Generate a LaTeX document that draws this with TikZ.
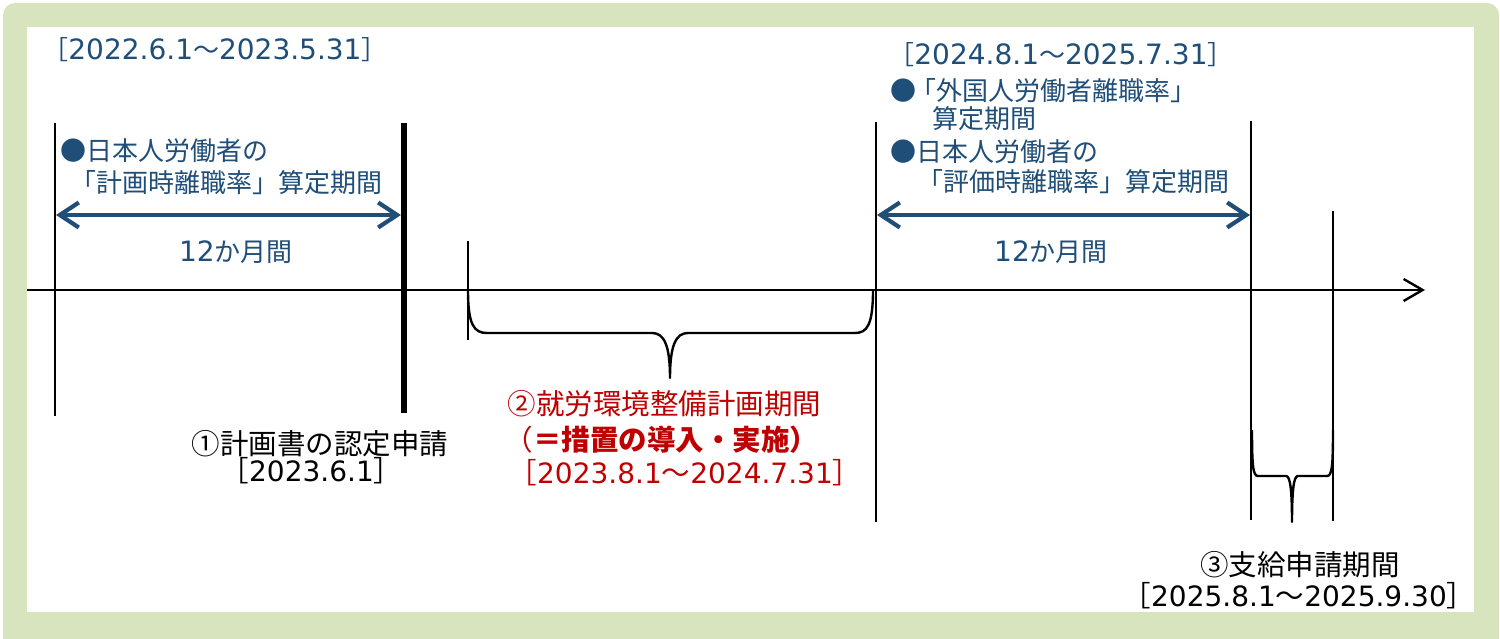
\documentclass[tikz,border=0pt]{standalone}
\usepackage{fontspec}
\setmainfont{Noto Sans CJK JP}
\newfontfamily\latfont{DejaVu Sans}
\usetikzlibrary{arrows.meta}
\definecolor{frameg}{RGB}{216,228,189}
\definecolor{tblue}{RGB}{31,78,121}
\definecolor{tred}{RGB}{192,0,0}
\newcommand\nm[1]{{\latfont\fontsize{28}{30}\selectfont #1}}
\newcommand\smfont{\fontsize{26}{30}\selectfont}
\newcommand\bgfont{\fontsize{28.5}{32}\selectfont}
\begin{document}
\begin{tikzpicture}[x=1pt,y=-1pt,
  note/.style={inner sep=0pt, text=tblue, font=\smfont},
  lab/.style={inner sep=0pt, text=black, font=\bgfont},
  redlab/.style={lab, text=tred},
  tick/.style={line width=2pt, black},
  thicktick/.style={line width=6pt, black},
  axis/.style={line width=2.4pt, black, -{Straight Barb[length=19pt,width=22pt]}},
  span/.style={line width=4.2pt, tblue, {Straight Barb[length=19pt,width=25pt]}-{Straight Barb[length=19pt,width=25pt]}},
  bracel/.style={line width=2.4pt, black, line join=round}]
\useasboundingbox (0,0) rectangle (1500,639);
\clip (0,0) rectangle (1500,639);
\fill[frameg, rounded corners=12pt] (3,3) rectangle (1499,660);
\fill[white] (27,27) rectangle (1474,612);

% coordinates
\coordinate (ax0) at (27,290);
\coordinate (ax1) at (1425,290);
\coordinate (v1t) at (55,123);   \coordinate (v1b) at (55,416);
\coordinate (v2t) at (404,123);  \coordinate (v2b) at (404,413);
\coordinate (v3t) at (468,241);  \coordinate (v3b) at (468,340);
\coordinate (v4t) at (876,122);  \coordinate (v4b) at (876,522);
\coordinate (v5t) at (1251,121); \coordinate (v5b) at (1251,520);
\coordinate (v6t) at (1333,211); \coordinate (v6b) at (1333,521);
\coordinate (a1l) at (56,215);   \coordinate (a1r) at (401,215);
\coordinate (a2l) at (877,215);  \coordinate (a2r) at (1250,215);

% axis and ticks
\draw[axis] (ax0) -- (ax1);
\draw[tick] (v1t) -- (v1b);
\draw[thicktick] (v2t) -- (v2b);
\draw[tick] (v3t) -- (v3b);
\draw[tick] (v4t) -- (v4b);
\draw[tick] (v5t) -- (v5b);
\draw[tick] (v6t) -- (v6b);

% spans
\draw[span] (a1l) -- (a1r);
\draw[span] (a2l) -- (a2r);

% braces
\draw[bracel] (468,290) .. controls (468,325) and (474,333) .. (487,333) -- (652,333)
  .. controls (664,333) and (670,345) .. (670,378)
  .. controls (670,345) and (676,333) .. (688,333) -- (855,333)
  .. controls (867,333) and (873,325) .. (873,290);
\draw[bracel] (1252,430) .. controls (1252,466) and (1253,476) .. (1258,476) -- (1286,476)
  .. controls (1290,476) and (1292,488) .. (1292,522)
  .. controls (1292,488) and (1294,476) .. (1298,476) -- (1327,476)
  .. controls (1332,476) and (1333,466) .. (1333,430);

% left annotation
\node[note] (tl) at (215,49.5) {［\nm{2022.6.1}～\nm{2023.5.31}］};
\node[note, anchor=west] (l1) at (60.5,151) {●日本人労働者の};
\node[note, anchor=west] (l2) at (70,182.5) {「計画時離職率」算定期間};
\node[note] (l3) at (236,252.5) {\nm{12}か月間};

% right annotation
\node[note] (tr) at (1061,55) {［\nm{2024.8.1}～\nm{2025.7.31}］};
\node[note, anchor=west] (r2) at (890.5,91) {●\kern-6pt「外国人労働者離職率」};
\node[note, anchor=west] (r3) at (932,119) {算定期間};
\node[note, anchor=west] (r4) at (890.5,152) {●日本人労働者の};
\node[note, anchor=west] (r5) at (917,182) {「評価時離職率」算定期間};
\node[note] (r6) at (1051,252) {\nm{12}か月間};

% bottom labels
\node[lab] (b1) at (320,444) {①計画書の認定申請};
\node[lab] (b2) at (311.5,471) {［\nm{2023.6.1}］};
\node[redlab] (c1) at (664.5,404) {②就労環境整備計画期間};
\node[redlab] (c2) at (661.5,440) {（\textbf{＝措置の導入・実施）}};
\node[redlab] (c3) at (685,473) {［\nm{2023.8.1}～\nm{2024.7.31}］};
\node[lab] (d1) at (1300,565) {③支給申請期間};
\node[lab] (d2) at (1299,596) {［\nm{2025.8.1}～\nm{2025.9.30}］};
\end{tikzpicture}
\end{document}
